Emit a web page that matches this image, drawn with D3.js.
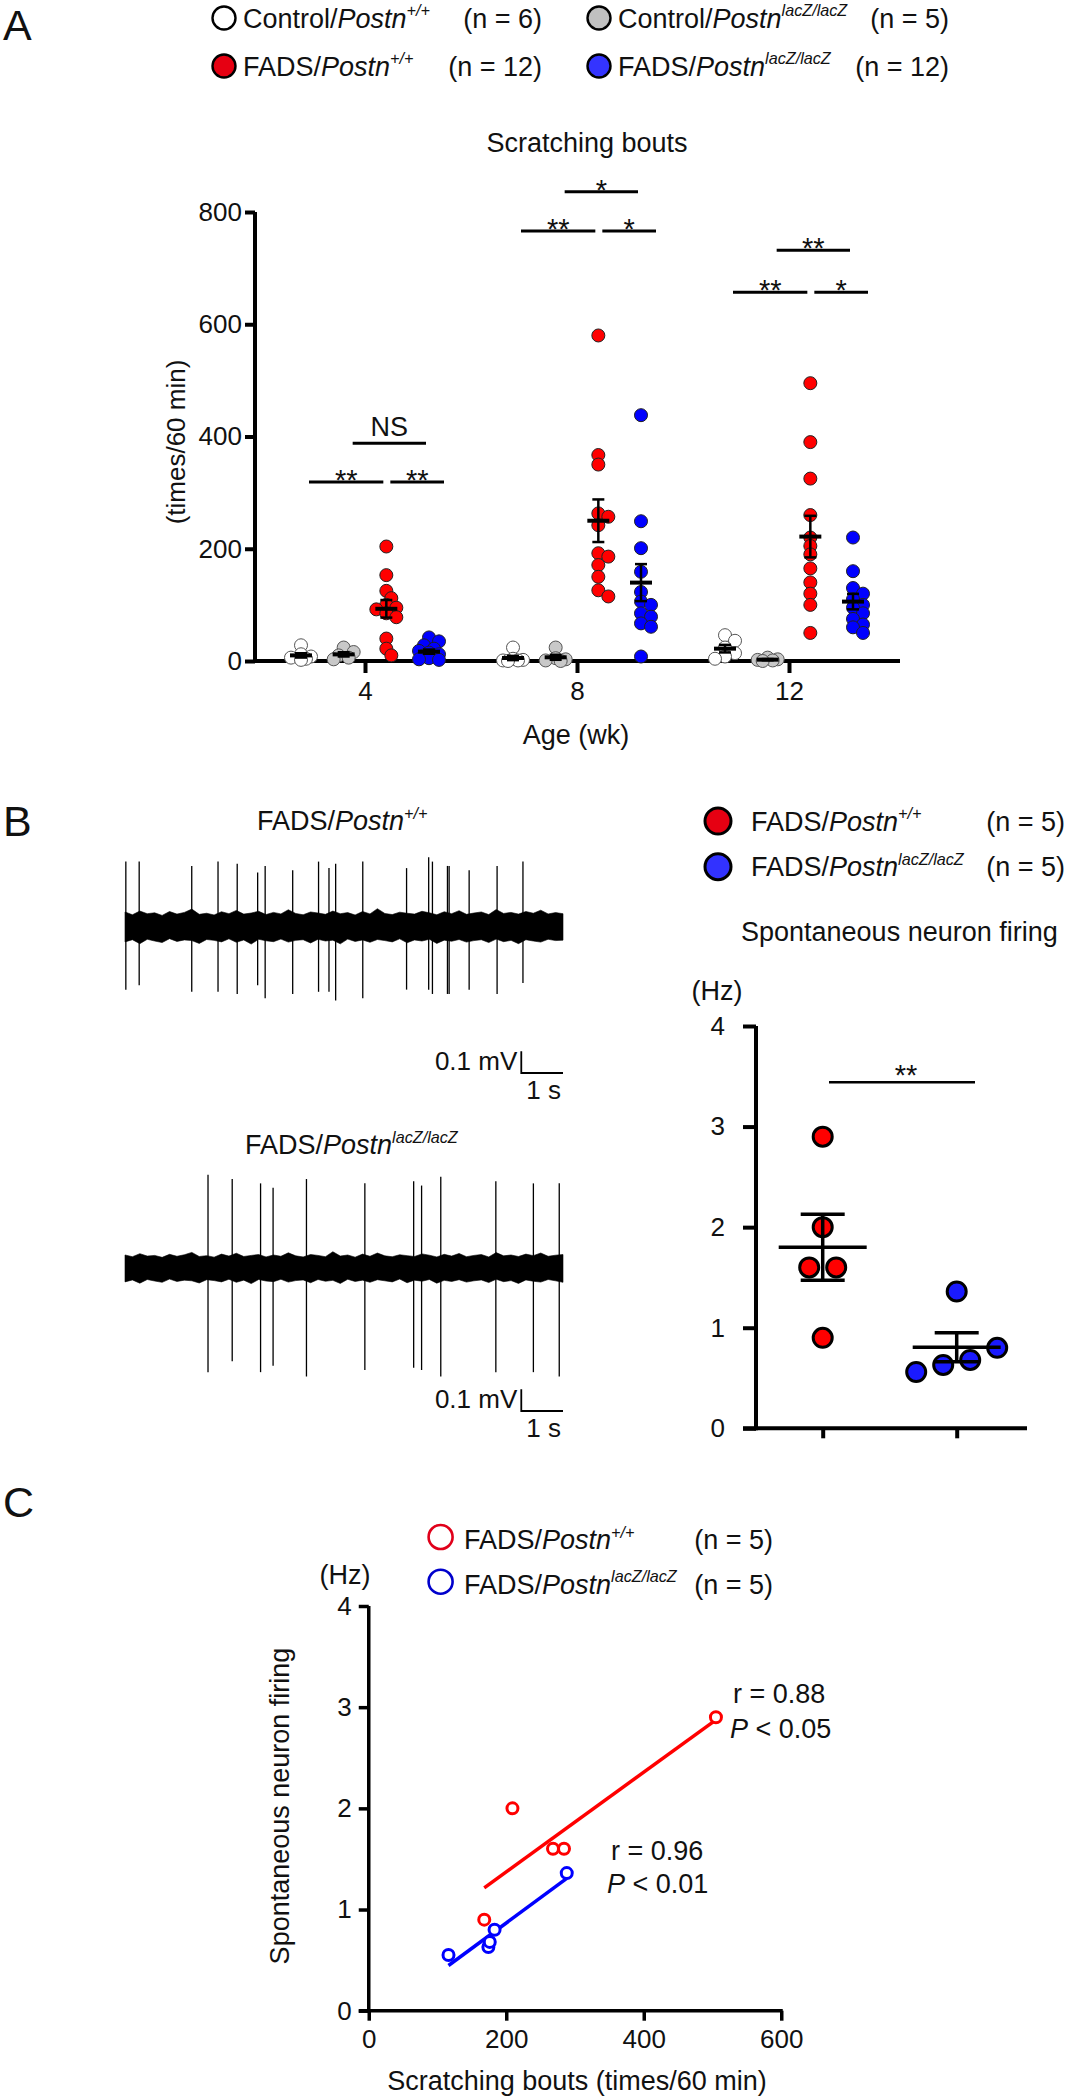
<!DOCTYPE html>
<html><head><meta charset="utf-8">
<script src="https://cdn.jsdelivr.net/npm/d3@7"></script>
<style>
body{margin:0;background:#fff;}
svg{display:block;font-family:"Liberation Sans",Arial,Helvetica,sans-serif;}
</style></head><body>
<svg id="fig" width="1067" height="2100"></svg>
<script>
// ================= DATA =================
// Panel A : scratching bouts (times/60 min) per age (wk)
const weeks = [4, 8, 12];
const groupPrefix = ["Control/", "Control/", "FADS/", "FADS/"];
const groupSup = ["+/+", "lacZ/lacZ", "+/+", "lacZ/lacZ"];
const groupN = [6, 5, 12, 12];
const ctrlWT = [[28,12,8,6,4,2],[24,4,2,1,1,0],[46,36,24,14,8,4]];
const ctrlKO = [[24,16,10,6,3],[24,5,3,1,0],[6,3,2,1,0]];
const fadsWT = [[204,153,125,112,100,95,92,85,78,40,22,10],
                [580,367,350,263,257,242,192,186,171,150,126,115],
                [495,390,325,260,220,205,190,165,140,120,100,50]];
const fadsKO = [[42,35,28,22,18,15,12,10,8,5,3,2],
                [438,249,201,159,123,106,100,85,79,67,61,8],
                [220,160,130,120,110,100,95,85,75,65,60,50]];
const yTicksA = [0, 200, 400, 600, 800];
// significance: week, group a, group b, height (data units), label
const sigWeek  = [4, 4, 4, 8, 8, 8, 12, 12, 12];
const sigA     = [0, 2, 1, 0, 2, 1, 0, 2, 1];
const sigB     = [2, 3, 3, 2, 3, 3, 2, 3, 3];
const sigLevel = [319, 319, 388, 766, 766, 836, 657, 657, 732];
const sigText  = ["**", "**", "NS", "**", "*", "*", "**", "*", "**"];

// Panel B : traces (time in s, amplitudes in mV)
const trace1SpikeT    = [0.02,0.34,1.60,2.23,2.69,3.18,3.36,4.02,4.64,4.89,5.05,5.70,6.75,7.28,7.37,7.73,7.77,8.25,8.92,9.54];
const trace1SpikeUp   = [0.30,0.30,0.28,0.30,0.29,0.25,0.28,0.26,0.30,0.27,0.29,0.30,0.27,0.32,0.30,0.28,0.28,0.26,0.28,0.30];
const trace1SpikeDown = [0.29,0.27,0.30,0.30,0.31,0.27,0.33,0.31,0.30,0.30,0.34,0.33,0.29,0.29,0.31,0.31,0.31,0.29,0.31,0.26];
const trace2SpikeT    = [1.99,2.57,3.25,3.55,4.35,5.75,6.92,7.11,7.57,8.89,9.79,10.41];
const trace2SpikeUp   = [0.43,0.41,0.39,0.37,0.41,0.39,0.40,0.38,0.42,0.40,0.39,0.39];
const trace2SpikeDown = [0.48,0.43,0.48,0.45,0.50,0.47,0.46,0.47,0.50,0.48,0.48,0.50];
const noise1Hi = [0.068,0.055,0.072,0.060,0.064,0.052,0.070,0.058,0.066,0.081,0.057,0.062,0.054,0.069,0.060,0.075,0.058,0.063,0.071,0.056,0.066,0.059,0.078,0.061,0.055,0.068,0.063,0.057,0.072,0.060,0.065,0.054,0.070,0.059,0.083,0.061,0.056,0.067,0.062,0.058,0.071,0.064,0.055,0.069,0.060,0.074,0.057,0.063,0.068,0.056,0.079,0.061,0.066,0.058,0.070,0.062,0.076,0.059,0.065,0.060];
const noise1Lo = [0.070,0.060,0.078,0.058,0.066,0.073,0.055,0.068,0.061,0.064,0.077,0.059,0.063,0.070,0.056,0.072,0.061,0.080,0.058,0.065,0.069,0.057,0.071,0.063,0.060,0.075,0.058,0.066,0.062,0.079,0.057,0.068,0.061,0.072,0.059,0.064,0.070,0.056,0.074,0.061,0.066,0.058,0.077,0.062,0.067,0.059,0.071,0.064,0.060,0.073,0.057,0.069,0.063,0.078,0.060,0.066,0.071,0.058,0.064,0.062];
const noise2Hi = [0.060,0.052,0.066,0.055,0.058,0.049,0.063,0.054,0.061,0.072,0.053,0.057,0.050,0.064,0.055,0.068,0.053,0.058,0.062,0.051,0.060,0.054,0.070,0.056,0.051,0.062,0.058,0.052,0.075,0.055,0.060,0.050,0.064,0.054,0.069,0.056,0.052,0.061,0.057,0.053,0.065,0.059,0.051,0.063,0.055,0.067,0.052,0.058,0.062,0.051,0.071,0.056,0.060,0.053,0.064,0.057,0.069,0.054,0.059,0.062];
const noise2Lo = [0.064,0.055,0.070,0.053,0.060,0.066,0.051,0.062,0.056,0.059,0.069,0.054,0.058,0.064,0.052,0.066,0.056,0.072,0.053,0.060,0.063,0.052,0.065,0.058,0.055,0.068,0.053,0.061,0.057,0.071,0.052,0.062,0.056,0.066,0.054,0.059,0.064,0.051,0.068,0.056,0.061,0.053,0.070,0.057,0.062,0.054,0.065,0.059,0.055,0.067,0.052,0.063,0.058,0.071,0.055,0.061,0.065,0.053,0.059,0.066];
const traceDuration = 10.5;

// Panel B right : spontaneous firing (Hz)
const firingWT = [2.9, 2.0, 1.6, 1.6, 0.9];
const firingKO = [1.36, 0.80, 0.68, 0.63, 0.56];
const yTicksB = [0, 1, 2, 3, 4];
const sigBLevel = 3.44;

// Panel C : correlation (scratching bouts vs firing)
const corrWTx = [505, 209, 268, 284, 168];
const corrWTy = [2.9, 2.0, 1.6, 1.6, 0.9];
const corrKOx = [116, 174, 176, 183, 288];
const corrKOy = [0.55, 0.63, 0.68, 0.80, 1.36];
const xTicksC = [0, 200, 400, 600];
const yTicksC = [0, 1, 2, 3, 4];
const corrText = [["r = 0.88", "0.05"], ["r = 0.96", "0.01"]];

// ================= HELPERS =================
const svg = d3.select("#fig");
svg.append("rect").attr("width",1067).attr("height",2100).attr("fill","#fff");

function genoText(g, x, y, prefix, sup, size, anchor) {
  const t = g.append("text").attr("x", x).attr("y", y).attr("font-size", size)
    .attr("text-anchor", anchor || "start").attr("fill", "#111");
  t.append("tspan").text(prefix);
  t.append("tspan").attr("font-style", "italic").text("Postn");
  t.append("tspan").attr("font-style", "italic").attr("font-size", size * 0.6)
    .attr("dy", -size * 0.42).text(sup);
  return t;
}
// compact swarm: limited horizontal spread, overlap allowed when crowded
function swarm(values, yScale, minDist, step, maxK) {
  const idx = values.map((v, i) => i).sort((a, b) => values[b] - values[a]);
  const placed = []; const off = new Array(values.length).fill(0);
  idx.forEach(i => {
    const y = yScale(values[i]);
    let best = 0, bestD = -1;
    for (let k = 0; k <= 2 * maxK; k++) {
      const c = k === 0 ? 0 : (k % 2 ? 1 : -1) * Math.ceil(k / 2) * step;
      const d = placed.length ? d3.min(placed, p => Math.hypot(p.x - c, p.y - y)) : 1e9;
      if (d >= minDist) { best = c; bestD = d; break; }
      if (d > bestD + 0.5) { best = c; bestD = d; }
    }
    off[i] = best; placed.push({x: best, y});
  });
  return off;
}
function rowSwarm(values, yScale, minDist, step) {
  const idx = values.map((v, i) => i).sort((a, b) => values[a] - values[b]);
  const rows = []; let cur = [];
  idx.forEach((i, j) => {
    if (j > 0 && Math.abs(yScale(values[i]) - yScale(values[idx[j-1]])) >= minDist) { rows.push(cur); cur = []; }
    cur.push(i);
  });
  rows.push(cur);
  const off = new Array(values.length).fill(0);
  rows.forEach(r => r.forEach((i, j) => off[i] = (j - (r.length - 1) / 2) * step));
  return off;
}
function sem(a) { return d3.deviation(a) / Math.sqrt(a.length); }
function styleAxis(g, w, size) {
  g.select(".domain").attr("stroke", "#000").attr("stroke-width", w);
  g.selectAll(".tick line").attr("stroke", "#000").attr("stroke-width", w);
  g.selectAll(".tick text").attr("font-size", size).attr("fill", "#111")
    .attr("font-family", '"Liberation Sans", Arial, sans-serif');
}
const fmtInt = d3.format("d");

// panel letters
[["A", 40], ["B", 836], ["C", 1517]].forEach(([l, y]) =>
  svg.append("text").attr("x", 3).attr("y", y).attr("font-size", 43).attr("fill", "#111").text(l));

// ================= PANEL A =================
const gA = svg.append("g");
const fillsA = ["#ffffff", "#c8c8c8", "#ff0000", "#0000ff"];
const legFillsA = ["#ffffff", "#c0c0c0", "#e60012", "#3434ff"];
const allA = [ctrlWT, ctrlKO, fadsWT, fadsKO];
allA.forEach((_, s) => {
  const col = s % 2, row = Math.floor(s / 2);
  const cx = col ? 599 : 224, cy = row ? 66 : 18;
  gA.append("circle").attr("cx", cx).attr("cy", cy).attr("r", 11.5)
    .attr("fill", legFillsA[s]).attr("stroke", "#000").attr("stroke-width", 2.4);
  genoText(gA, cx + 19, cy + 9.5, groupPrefix[s], groupSup[s], 27);
  gA.append("text").attr("x", col ? 949 : 542).attr("y", cy + 9.5).attr("font-size", 27)
    .attr("text-anchor", "end").attr("fill", "#111").text(`(n = ${groupN[s]})`);
});
gA.append("text").attr("x", 587).attr("y", 152).attr("font-size", 27).attr("text-anchor", "middle")
  .attr("fill", "#111").text("Scratching bouts");

const yA = d3.scaleLinear().domain([0, 800]).range([661, 212]);
const xA = d3.scaleLinear().domain([4, 12]).range([365, 789]);
const offA = d3.scalePoint().domain([0, 1, 2, 3]).range([-64, 64]);

const axYA = gA.append("g").attr("transform", "translate(255,0)")
  .call(d3.axisLeft(yA).tickValues(yTicksA).tickSize(10).tickSizeOuter(0).tickPadding(3));
styleAxis(axYA, 4, 26);
axYA.select(".domain").attr("d", `M0,${yA(0) + 2}V${yA(800)}`);
const axXA = gA.append("g").attr("transform", `translate(0,${yA(0)})`)
  .call(d3.axisBottom(xA).tickValues(weeks).tickSize(12).tickSizeOuter(0).tickPadding(9));
styleAxis(axXA, 4, 26);
axXA.select(".domain").attr("d", "M253,0H900");
gA.append("text").attr("transform", "translate(185,442) rotate(-90)").attr("text-anchor", "middle")
  .attr("font-size", 26).attr("fill", "#111").text("(times/60 min)");
gA.append("text").attr("x", 576).attr("y", 744).attr("text-anchor", "middle")
  .attr("font-size", 27).attr("fill", "#111").text("Age (wk)");

allA.forEach((series, s) => {
  series.forEach((vals, wi) => {
    const cx0 = xA(weeks[wi]) + offA(s);
    const off = swarm(vals, yA, 8, 5, 2);
    gA.append("g").selectAll("circle").data(vals).join("circle")
      .attr("cx", (d, i) => cx0 + off[i]).attr("cy", d => yA(d)).attr("r", 6.5)
      .attr("fill", fillsA[s]).attr("stroke", s < 2 ? "#555" : "#222").attr("stroke-width", 1);
  });
});
allA.forEach((series, s) => {
  series.forEach((vals, wi) => {
    const cx0 = xA(weeks[wi]) + offA(s);
    const m = d3.mean(vals), e = sem(vals);
    const g = gA.append("g").attr("stroke", "#000");
    g.append("line").attr("x1", cx0).attr("x2", cx0).attr("y1", yA(m - e)).attr("y2", yA(m + e)).attr("stroke-width", 2.5);
    [m - e, m + e].forEach(v => g.append("line").attr("x1", cx0 - 6).attr("x2", cx0 + 6)
      .attr("y1", yA(v)).attr("y2", yA(v)).attr("stroke-width", 2.5));
    g.append("line").attr("x1", cx0 - 11).attr("x2", cx0 + 11).attr("y1", yA(m)).attr("y2", yA(m)).attr("stroke-width", 4);
  });
});
const barInset = {"0-2": [8, -3], "2-3": [4, 15], "1-3": [9, -3]};
sigWeek.forEach((w, i) => {
  const ins = barInset[sigA[i] + "-" + sigB[i]];
  const x1 = xA(w) + offA(sigA[i]) + ins[0], x2 = xA(w) + offA(sigB[i]) + ins[1];
  const y = yA(sigLevel[i]);
  gA.append("line").attr("x1", x1).attr("x2", x2).attr("y1", y).attr("y2", y)
    .attr("stroke", "#000").attr("stroke-width", 3);
  const isNS = sigText[i] === "NS";
  gA.append("text").attr("x", (x1 + x2) / 2).attr("y", isNS ? y - 7 : y + 8)
    .attr("text-anchor", "middle").attr("font-size", isNS ? 27 : 29).attr("fill", "#111").text(sigText[i]);
});

// ================= PANEL B traces =================
const gB = svg.append("g");
const xT = d3.scaleLinear().domain([0, traceDuration]).range([125, 563]);
function drawTrace(center, hi, lo, st, up, down, sup, titleX, titleY, barBottom) {
  const yT = d3.scaleLinear().domain([-1, 1]).range([center + 217, center - 217]);
  genoText(gB, titleX, titleY, "FADS/", sup, 27);
  const tt = hi.map((_, i) => i * traceDuration / (hi.length - 1));
  gB.append("path").datum(tt).attr("fill", "#000").attr("stroke", "#000").attr("stroke-width", 0.6)
    .attr("d", d3.area().x(d => xT(d)).y0((d, i) => yT(-lo[i])).y1((d, i) => yT(hi[i])));
  gB.append("g").selectAll("line").data(st).join("line")
    .attr("x1", d => xT(d)).attr("x2", d => xT(d))
    .attr("y1", (d, i) => yT(up[i])).attr("y2", (d, i) => yT(-down[i]))
    .attr("stroke", "#000").attr("stroke-width", 1.3);
  const bx = xT(traceDuration - 1), ex = xT(traceDuration);
  const h = yT(0) - yT(0.1);
  gB.append("path").attr("d", `M${bx},${barBottom - h}V${barBottom}H${ex}`)
    .attr("fill", "none").attr("stroke", "#000").attr("stroke-width", 1.8);
  gB.append("text").attr("x", bx - 4).attr("y", barBottom - 3).attr("text-anchor", "end")
    .attr("font-size", 26).attr("fill", "#111").text("0.1 mV");
  gB.append("text").attr("x", ex - 2).attr("y", barBottom + 26).attr("text-anchor", "end")
    .attr("font-size", 26).attr("fill", "#111").text("1 s");
}
drawTrace(926.7, noise1Hi, noise1Lo, trace1SpikeT, trace1SpikeUp, trace1SpikeDown, "+/+", 257, 830, 1073);
drawTrace(1268, noise2Hi, noise2Lo, trace2SpikeT, trace2SpikeUp, trace2SpikeDown, "lacZ/lacZ", 245, 1154, 1411);

// ================= PANEL B right =================
const gR = svg.append("g");
const legFillsB = ["#e60012", "#3232ff"];
[0, 1].forEach(k => {
  const cy = k ? 866.7 : 821;
  gR.append("circle").attr("cx", 718).attr("cy", cy).attr("r", 13)
    .attr("fill", legFillsB[k]).attr("stroke", "#000").attr("stroke-width", 3);
  genoText(gR, 751, cy + 9.5, "FADS/", groupSup[k ? 3 : 2], 27);
  gR.append("text").attr("x", 1065).attr("y", cy + 9.5).attr("text-anchor", "end")
    .attr("font-size", 27).attr("fill", "#111").text("(n = 5)");
});
gR.append("text").attr("x", 741).attr("y", 941).attr("font-size", 27).attr("fill", "#111").text("Spontaneous neuron firing");
gR.append("text").attr("x", 717).attr("y", 1000).attr("text-anchor", "middle").attr("font-size", 27).attr("fill", "#111").text("(Hz)");
const yB = d3.scaleLinear().domain([0, 4]).range([1428.3, 1026]);
const xB = d3.scalePoint().domain([0, 1]).range([822.7, 956.7]);
const axYB = gR.append("g").attr("transform", "translate(756,0)")
  .call(d3.axisLeft(yB).tickValues(yTicksB).tickFormat(fmtInt).tickSize(13).tickSizeOuter(0).tickPadding(18));
styleAxis(axYB, 4, 26);
axYB.select(".domain").attr("d", `M0,${yB(0) + 2}V${yB(4)}`);
const axXB = gR.append("g").attr("transform", `translate(0,${yB(0)})`)
  .call(d3.axisBottom(xB).tickSize(10).tickSizeOuter(0).tickFormat(""));
styleAxis(axXB, 4, 26);
axXB.select(".domain").attr("d", "M743,0H1027");
const firing = [firingWT, firingKO];
const dotFillB = ["#ff0000", "#1a1aff"];
firing.forEach((vals, k) => {
  const off = rowSwarm(vals, yB, 19, 27);
  gR.append("g").selectAll("circle").data(vals).join("circle")
    .attr("cx", (d, i) => xB(k) + off[i]).attr("cy", d => yB(d)).attr("r", 9.5)
    .attr("fill", dotFillB[k]).attr("stroke", "#000").attr("stroke-width", 3);
});
firing.forEach((vals, k) => {
  const cx0 = xB(k), m = d3.mean(vals), e = sem(vals);
  const g = gR.append("g").attr("stroke", "#000").attr("stroke-width", 3.5);
  g.append("line").attr("x1", cx0).attr("x2", cx0).attr("y1", yB(m - e)).attr("y2", yB(m + e));
  [m - e, m + e].forEach(v => g.append("line").attr("x1", cx0 - 22).attr("x2", cx0 + 22).attr("y1", yB(v)).attr("y2", yB(v)));
  g.append("line").attr("x1", cx0 - 44).attr("x2", cx0 + 44).attr("y1", yB(m)).attr("y2", yB(m));
});
gR.append("line").attr("x1", 829).attr("x2", 975).attr("y1", yB(sigBLevel)).attr("y2", yB(sigBLevel))
  .attr("stroke", "#000").attr("stroke-width", 2.5);
gR.append("text").attr("x", 906).attr("y", yB(sigBLevel) + 3).attr("text-anchor", "middle")
  .attr("font-size", 29).attr("fill", "#111").text("**");

// ================= PANEL C =================
const gC = svg.append("g");
const ringCol = ["#e0001a", "#0000cc"];
[0, 1].forEach(k => {
  const cy = k ? 1581.7 : 1537;
  gC.append("circle").attr("cx", 440.6).attr("cy", cy).attr("r", 12).attr("fill", "none")
    .attr("stroke", ringCol[k]).attr("stroke-width", 2.6);
  genoText(gC, 464, cy + 12, "FADS/", groupSup[k ? 3 : 2], 27);
  gC.append("text").attr("x", 773).attr("y", cy + 12).attr("text-anchor", "end")
    .attr("font-size", 27).attr("fill", "#111").text("(n = 5)");
});
gC.append("text").attr("x", 345).attr("y", 1584).attr("text-anchor", "middle").attr("font-size", 27).attr("fill", "#111").text("(Hz)");
const xC = d3.scaleLinear().domain([0, 600]).range([368.75, 781.25]);
const yC = d3.scaleLinear().domain([0, 4]).range([2010.7, 1606]);
const axYC = gC.append("g").attr("transform", `translate(${xC(0)},0)`)
  .call(d3.axisLeft(yC).tickValues(yTicksC).tickFormat(fmtInt).tickSize(10).tickSizeOuter(0).tickPadding(7));
styleAxis(axYC, 3.5, 26);
axYC.select(".domain").attr("d", `M0,${yC(0) + 2}V${yC(4)}`);
const axXC = gC.append("g").attr("transform", `translate(0,${yC(0)})`)
  .call(d3.axisBottom(xC).tickValues(xTicksC).tickFormat(fmtInt).tickSize(10).tickSizeOuter(0).tickPadding(9));
styleAxis(axXC, 3.5, 26);
axXC.select(".domain").attr("d", `M${xC(0) - 10},0H${xC(600) + 1.5}`);
gC.append("text").attr("x", 577).attr("y", 2090).attr("text-anchor", "middle").attr("font-size", 27)
  .attr("fill", "#111").text("Scratching bouts (times/60 min)");
gC.append("text").attr("transform", "translate(289,1806) rotate(-90)").attr("text-anchor", "middle")
  .attr("font-size", 27).attr("fill", "#111").text("Spontaneous neuron firing");
const lineCol = ["#ff0000", "#0000ff"];
[[corrWTx, corrWTy], [corrKOx, corrKOy]].forEach(([xs, ys], k) => {
  const mx = d3.mean(xs), my = d3.mean(ys);
  const sxy = d3.sum(xs, (x, i) => (x - mx) * (ys[i] - my));
  const sxx = d3.sum(xs, x => (x - mx) ** 2);
  const b = sxy / sxx, a = my - b * mx;
  const x0 = d3.min(xs), x1 = d3.max(xs);
  gC.append("line").attr("x1", xC(x0)).attr("x2", xC(x1)).attr("y1", yC(a + b * x0)).attr("y2", yC(a + b * x1))
    .attr("stroke", lineCol[k]).attr("stroke-width", 3.5);
  gC.append("g").selectAll("circle").data(xs).join("circle")
    .attr("cx", d => xC(d)).attr("cy", (d, i) => yC(ys[i])).attr("r", 5.5)
    .attr("fill", "#fff").attr("stroke", lineCol[k]).attr("stroke-width", 3);
});
const annPos = [[733, 1703, 730, 1738], [611, 1860, 607, 1893]];
corrText.forEach((t, k) => {
  const p = annPos[k];
  gC.append("text").attr("x", p[0]).attr("y", p[1]).attr("font-size", 27).attr("fill", "#111").text(t[0]);
  const tp = gC.append("text").attr("x", p[2]).attr("y", p[3]).attr("font-size", 27).attr("fill", "#111");
  tp.append("tspan").attr("font-style", "italic").text("P");
  tp.append("tspan").text(" < " + t[1]);
});
</script>
</body></html>
